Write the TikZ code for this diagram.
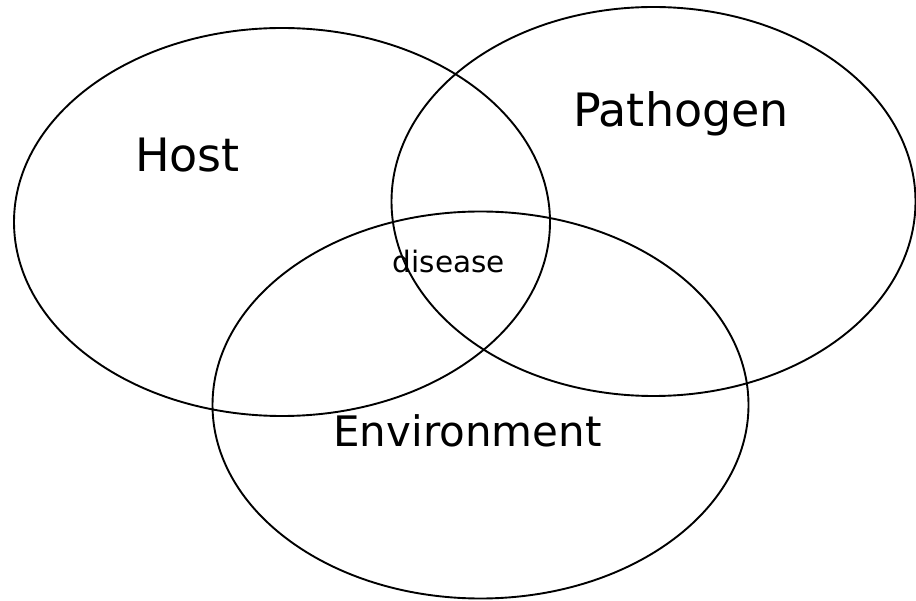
\documentclass[tikz,border=0pt]{standalone}
\usepackage{fontspec}
\setmainfont{DejaVu Sans}
\usetikzlibrary{shapes.geometric}
\definecolor{ink}{RGB}{0,0,0}
\tikzset{
  every picture/.style={color=ink, line width=1.9pt},
  ring/.style={ellipse, draw=ink, inner sep=0pt, minimum width=536pt, minimum height=388pt},
  big/.style={anchor=base, inner sep=0pt, font=\fontsize{46}{55}\selectfont},
  mid/.style={anchor=base, inner sep=0pt, font=\fontsize{42}{50}\selectfont},
  small/.style={anchor=base, inner sep=0pt, font=\fontsize{29.5}{35}\selectfont},
}

\begin{document}
\begin{tikzpicture}[x=1pt, y=-1pt]
  \useasboundingbox (0,0) rectangle (916,601);
  % the three sets
  \node[ring] (host) at (282,222) {};
  \node[ring, minimum width=524pt, minimum height=389pt] (pathogen) at (653.5,201.5) {};
  \node[ring, minimum height=387pt] (environment) at (480.5,405) {};
  % labels
  \node[big] (hostlbl) at (187.5,172) {Host};
  \node[big] (pathogenlbl) at (681,127) {Pathogen};
  \node[mid] (environmentlbl) at (467.5,447) {Environment};
  \node[small] (diseaselbl) at (449,273) {disease};
\end{tikzpicture}
\end{document}
